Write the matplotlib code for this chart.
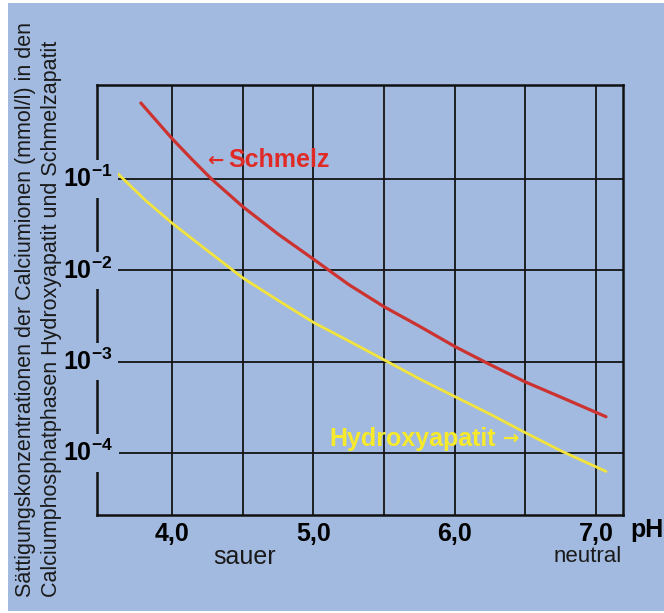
import numpy as np
import matplotlib
matplotlib.use('Agg')
import matplotlib.pyplot as plt
from matplotlib.patches import Rectangle
from matplotlib.ticker import NullLocator

plt.rcParams['font.family'] = ['Liberation Sans', 'DejaVu Sans']
plt.rcParams['mathtext.fontset'] = 'custom'
plt.rcParams['mathtext.rm'] = 'Liberation Sans'
plt.rcParams['mathtext.bf'] = 'Liberation Sans:bold'

schmelz_ph = [3.78, 4.0, 4.14, 4.28, 4.5, 4.75, 5.0, 5.25, 5.5, 5.75, 6.0, 6.25, 6.5, 6.75, 7.07]
schmelz_c = [0.68, 0.278, 0.165, 0.10, 0.050, 0.025, 0.0133, 0.0070, 0.0040, 0.00245,
             0.00147, 0.00093, 0.0006, 0.00041, 0.00025]
hap_ph = [3.62, 3.81, 4.0, 4.25, 4.5, 4.75, 5.0, 5.25, 5.5, 5.75, 6.0, 6.25, 6.5, 6.75, 7.07]
hap_c = [0.1135, 0.059, 0.033, 0.0165, 0.0083, 0.0047, 0.0027, 0.00169, 0.00105, 0.00065,
         0.000416, 0.000267, 0.000167, 0.000106, 0.000063]

x_ticks = [4.0, 5.0, 6.0, 7.0]
x_ticklabels = ['4,0', '5,0', '6,0', '7,0']
x_minor = [4.5, 5.5, 6.5]
y_ticks = [1e-1, 1e-2, 1e-3, 1e-4]
y_ticklabels = [r'$\mathbf{10^{-1}}$', r'$\mathbf{10^{-2}}$', r'$\mathbf{10^{-3}}$', r'$\mathbf{10^{-4}}$']

BG = '#a2badf'
RED = '#cc3330'
YEL = '#f2e43c'
W, H = 664, 613

fig = plt.figure(figsize=(W / 100, H / 100), dpi=100)
fig.patch.set_facecolor('white')
fig.add_artist(Rectangle((8 / W, 2 / H), 1 - 8 / W, 1 - 5 / H, transform=fig.transFigure,
                         facecolor=BG, edgecolor='none', zorder=-10))

ax = fig.add_axes([97 / W, 1 - 515 / H, (623 - 97) / W, (515 - 85) / H])
ax.set_facecolor(BG)
ax.set_yscale('log')
ax.set_xlim(3.47, 7.19)
ax.set_ylim(2.1e-5, 1.07)

ax.plot(schmelz_ph, schmelz_c, color=RED, lw=2.3, solid_capstyle='round', solid_joinstyle='round', zorder=3)
ax.plot(hap_ph, hap_c, color=YEL, lw=2.0, solid_capstyle='round', solid_joinstyle='round', zorder=3)

# Gitter
ax.set_xticks(x_ticks)
ax.set_xticklabels(x_ticklabels, fontsize=18, fontweight='bold')
ax.set_xticks(x_minor, minor=True)
ax.set_yticks(y_ticks)
ax.yaxis.set_minor_locator(NullLocator())
ax.tick_params(which='both', length=0)
ax.tick_params(axis='x', pad=5)
ax.tick_params(axis='y', labelleft=False)
ax.grid(axis='x', which='both', color='#141414', lw=1.3)
ax.grid(axis='y', which='major', color='#141414', lw=1.3)
ax.set_axisbelow(True)
for s in ax.spines.values():
    s.set_linewidth(1.8)
    s.set_color('#111111')

# y-Beschriftung mit Hintergrund (unterbricht die Achse)
for yv, lab in zip(y_ticks, y_ticklabels):
    ax.text(-0.017, yv, lab, transform=ax.get_yaxis_transform(), ha='center', va='center',
            fontsize=18, color='black', clip_on=False, zorder=6,
            bbox=dict(facecolor=BG, edgecolor='none', pad=4))

ax.text(4.25, 0.16, '\u2190', color='#e02a26', fontsize=14, fontweight='bold',
        family='DejaVu Sans', ha='left', va='center', zorder=5)
ax.text(4.40, 0.16, 'Schmelz', color='#e02a26', fontsize=18, fontweight='bold',
        ha='left', va='center', zorder=5)
ax.text(5.11, 1.44e-4, 'Hydroxyapatit', color='#f6ea2a', fontsize=18, fontweight='bold',
        ha='left', va='center', zorder=5)
ax.text(6.34, 1.44e-4, '\u2192', color='#f6ea2a', fontsize=14, fontweight='bold',
        family='DejaVu Sans', ha='left', va='center', zorder=5)

fig.text(630 / W, 1 - 530 / H, 'pH', fontsize=18, fontweight='bold', ha='left', va='center')
fig.text(245 / W, 1 - 557 / H, 'sauer', fontsize=18, color='#1a1a1a', ha='center', va='center')
fig.text(588 / W, 1 - 557 / H, 'neutral', fontsize=16, color='#1a1a1a', ha='center', va='center')

fig.text(26 / W, 1 - 597 / H, 'Sättigungskonzentrationen der Calciumionen (mmol/l) in den',
         rotation=90, fontsize=15.5, color='#1a1a1a', ha='center', va='bottom')
fig.text(52 / W, 1 - 597 / H, 'Calciumphosphatphasen Hydroxyapatit und Schmelzapatit',
         rotation=90, fontsize=15.5, color='#1a1a1a', ha='center', va='bottom')

fig.savefig('out.png', dpi=100, facecolor=fig.get_facecolor())
